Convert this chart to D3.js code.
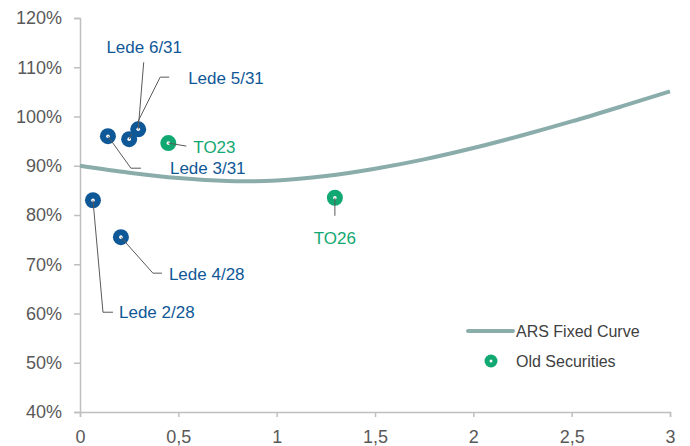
<!DOCTYPE html>
<html>
<head>
<meta charset="utf-8">
<script src="https://cdn.jsdelivr.net/npm/d3@7"></script>
<style>
  body { margin: 0; background: #fff; }
  svg { font-family: "Liberation Sans", Arial, sans-serif; }
</style>
</head>
<body>
<div class="vis"></div>
<script>
// frame size
const FRAME_WIDTH = 690;
const FRAME_HEIGHT = 446;
const MARGINS = {left: 80, right: 20, top: 18, bottom: 34};

// curve samples (duration, yield %)
const curve_x = [0, 0.25, 0.5, 0.75, 1, 1.25, 1.5, 1.75, 2, 2.25, 2.5, 2.75, 3];
const curve_y = [90.0, 88.6, 87.5, 86.9, 87.0, 87.9, 89.4, 91.3, 93.6, 96.2, 99.0, 102.0, 105.1];

// securities
const sec_names = ['Lede 2/28', 'Lede 4/28', 'Lede 3/31', 'Lede 5/31', 'Lede 6/31', 'TO23', 'TO26'];
const sec_x = [0.066, 0.208, 0.142, 0.25, 0.296, 0.449, 1.296];
const sec_y = [83.0, 75.5, 96.0, 95.4, 97.4, 94.6, 83.5];
const sec_old = [false, false, false, false, false, true, true];

// axis ticks
const x_ticks = [0, 0.5, 1, 1.5, 2, 2.5, 3];
const x_tick_labels = ['0', '0,5', '1', '1,5', '2', '2,5', '3'];
const y_ticks = [40, 50, 60, 70, 80, 90, 100, 110, 120];

// legend
const legend_labels = ['ARS Fixed Curve', 'Old Securities'];

const BLUE = '#0f5897';
const GREEN = '#12a872';
const CURVE = '#8aadab';

// leader lines and label placement (pixel offsets from point)
const leaders = [
  {path: [[0,0],[10,112],[20,112]], text: [26,112], anchor: 'start'},
  {path: [[0,0],[32,36],[41,36]], text: [48,37], anchor: 'start'},
  {path: [[0,0],[23,32],[33,32]], text: [62,32], anchor: 'start'},
  {path: [[0,0],[31,-62],[40,-62]], text: [59,-61], anchor: 'start'},
  {path: [[0,0],[5.5,-67]], text: [6,-82], anchor: 'middle'},
  {path: [[0,0],[18,3]], text: [25,3.5], anchor: 'start'},
  {path: [[0,0],[0,18]], text: [0,40], anchor: 'middle'}
];

const FRAME = d3.select('.vis')
  .append('svg')
    .attr('width', FRAME_WIDTH)
    .attr('height', FRAME_HEIGHT);

const xscale = d3.scaleLinear()
  .domain([0, 3])
  .range([MARGINS.left, 670]);
const yscale = d3.scaleLinear()
  .domain([40, 120])
  .range([412, MARGINS.top]);

// y axis
const yAxis = FRAME.append('g')
  .attr('transform', 'translate(' + MARGINS.left + ',0)')
  .call(d3.axisLeft(yscale).tickValues(y_ticks).tickSize(6).tickPadding(12)
    .tickFormat(d => d + '%'));

// x axis
const xAxis = FRAME.append('g')
  .attr('transform', 'translate(0,' + yscale(40) + ')')
  .call(d3.axisBottom(xscale).tickValues(x_ticks).tickSize(5).tickPadding(13)
    .tickFormat((d, i) => x_tick_labels[i]));

[xAxis, yAxis].forEach(ax => {
  ax.select('.domain').attr('stroke', '#bfbfbf').attr('stroke-width', 1.5);
  ax.selectAll('.tick line').attr('stroke', '#bfbfbf').attr('stroke-width', 1.5);
  ax.selectAll('.tick text')
    .attr('fill', '#595959')
    .attr('font-size', '18px')
    .attr('font-family', '"Liberation Sans", Arial, sans-serif');
});

// curve
const curveData = curve_x.map((x, i) => ({x: x, y: curve_y[i]}));
FRAME.append('path')
  .datum(curveData)
  .attr('fill', 'none')
  .attr('stroke', CURVE)
  .attr('stroke-width', 4)
  .attr('d', d3.line()
    .x(d => xscale(d.x))
    .y(d => yscale(d.y))
    .curve(d3.curveCatmullRom));

const secs = sec_names.map((n, i) => ({
  name: n, x: sec_x[i], y: sec_y[i], old: sec_old[i], lay: leaders[i]
}));

// markers
const marks = FRAME.selectAll('g.sec')
  .data(secs)
  .enter().append('g')
    .attr('class', 'sec')
    .attr('transform', d => 'translate(' + xscale(d.x) + ',' + yscale(d.y) + ')');

marks.append('circle')
  .attr('r', 8)
  .attr('fill', d => d.old ? GREEN : BLUE);
marks.append('circle')
  .attr('r', 1.8)
  .attr('fill', '#fff');

// leader lines
marks.append('path')
  .attr('fill', 'none')
  .attr('stroke', '#595959')
  .attr('stroke-width', 1)
  .attr('d', d => d3.line()(d.lay.path));

marks.append('text')
  .attr('x', d => d.lay.text[0])
  .attr('y', d => d.lay.text[1])
  .attr('dy', '0.35em')
  .attr('text-anchor', d => d.lay.anchor)
  .attr('font-size', '17px')
  .attr('fill', d => d.old ? GREEN : BLUE)
  .text(d => d.name);

// legend
const legend = FRAME.append('g');
legend.append('line')
  .attr('x1', 468).attr('x2', 513)
  .attr('y1', 331).attr('y2', 331)
  .attr('stroke', CURVE)
  .attr('stroke-width', 4)
  .attr('stroke-linecap', 'round');
legend.append('circle')
  .attr('cx', 491).attr('cy', 361).attr('r', 6.5)
  .attr('fill', GREEN);
legend.append('circle')
  .attr('cx', 491).attr('cy', 361).attr('r', 1.5)
  .attr('fill', '#fff');
legend.selectAll('text.leg')
  .data(legend_labels)
  .enter().append('text')
    .attr('class', 'leg')
    .attr('x', 516)
    .attr('y', (d, i) => 331 + i * 30)
    .attr('dy', '0.35em')
    .attr('font-size', '16px')
    .attr('fill', '#404040')
    .text(d => d);
</script>
</body>
</html>
